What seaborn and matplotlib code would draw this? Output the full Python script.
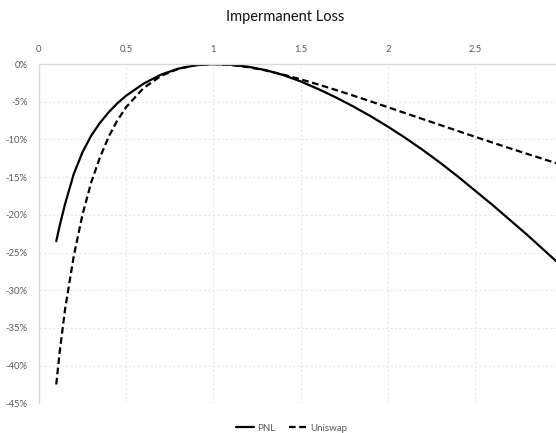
import pandas as pd
import seaborn as sns
import matplotlib.pyplot as plt
from matplotlib.ticker import FuncFormatter

# price ratio (x) and loss values in percent
price_ratio = [0.10, 0.12, 0.15, 0.20, 0.25, 0.30, 0.35, 0.40, 0.45, 0.50,
               0.60, 0.70, 0.80, 0.90, 1.00, 1.10, 1.20, 1.30, 1.40, 1.50,
               1.60, 1.70, 1.80, 1.90, 2.00, 2.10, 2.20, 2.30, 2.40, 2.50,
               2.60, 2.70, 2.80, 2.90, 3.00]
pnl = [-23.5, -21.4, -18.6, -14.6, -11.7, -9.5, -7.8, -6.4, -5.2, -4.2,
       -2.6, -1.4, -0.6, -0.15, 0.0, -0.1, -0.35, -0.8, -1.45, -2.3,
       -3.3, -4.4, -5.6, -6.9, -8.3, -9.8, -11.4, -13.1, -14.9, -16.8,
       -18.7, -20.7, -22.7, -24.8, -26.9]
uniswap = [-42.5, -38.1, -32.6, -25.5, -20.0, -15.7, -12.4, -9.65, -7.47, -5.72,
           -3.18, -1.57, -0.62, -0.14, 0.0, -0.11, -0.41, -0.85, -1.40, -2.02,
           -2.70, -3.42, -4.17, -4.94, -5.72, -6.51, -7.30, -8.08, -8.87, -9.65,
           -10.42, -11.18, -11.93, -12.67, -13.40]

y_ticks = [0, -5, -10, -15, -20, -25, -30, -35, -40, -45]
x_ticks = [0, 0.5, 1, 1.5, 2, 2.5]

df = pd.DataFrame({"x": price_ratio, "PNL": pnl, "Uniswap": uniswap})

sns.set_style("white")
plt.rcParams['font.family'] = ['Lato', 'DejaVu Sans']

fig = plt.figure(figsize=(5.56, 4.33), dpi=100)
ax = fig.add_axes([0.0698, 0.0686, 0.9302, 0.7834])

sns.lineplot(data=df, x="x", y="PNL", ax=ax, color="black", linewidth=1.6,
             label="PNL", sort=False)
sns.lineplot(data=df, x="x", y="Uniswap", ax=ax, color="black", linewidth=1.6,
             linestyle=(0, (3, 1.6)), label="Uniswap", sort=False)

ax.set_xlim(0, 2.963)
ax.set_ylim(-45, 0)
ax.set_xticks(x_ticks)
ax.set_yticks(y_ticks)
ax.xaxis.tick_top()
ax.xaxis.set_major_formatter(FuncFormatter(lambda v, p: f"{v:g}"))
ax.yaxis.set_major_formatter(FuncFormatter(lambda v, p: f"{v:g}%"))
ax.tick_params(axis="both", length=0, labelsize=6.8, labelcolor="#595959")
ax.tick_params(axis="x", pad=7)
ax.tick_params(axis="y", pad=8)
ax.set_xlabel("")
ax.set_ylabel("")

ax.grid(True, color="#e6e6e6", linestyle=(0, (2, 2)), linewidth=0.8)
ax.set_axisbelow(True)
for side in ["right", "bottom"]:
    ax.spines[side].set_visible(False)
for side in ["left", "top"]:
    ax.spines[side].set_color("#d9d9d9")
    ax.spines[side].set_linewidth(1.0)

fig.suptitle("Impermanent Loss", x=0.513, y=0.978, fontsize=10.5, color="#111111")

ax.legend(loc="lower center", bbox_to_anchor=(0.489, -0.112), ncol=2,
          frameon=False, fontsize=7, handlelength=1.9, columnspacing=1.4,
          handletextpad=0.3, labelcolor="#595959")

fig.savefig("out.png", dpi=100)
